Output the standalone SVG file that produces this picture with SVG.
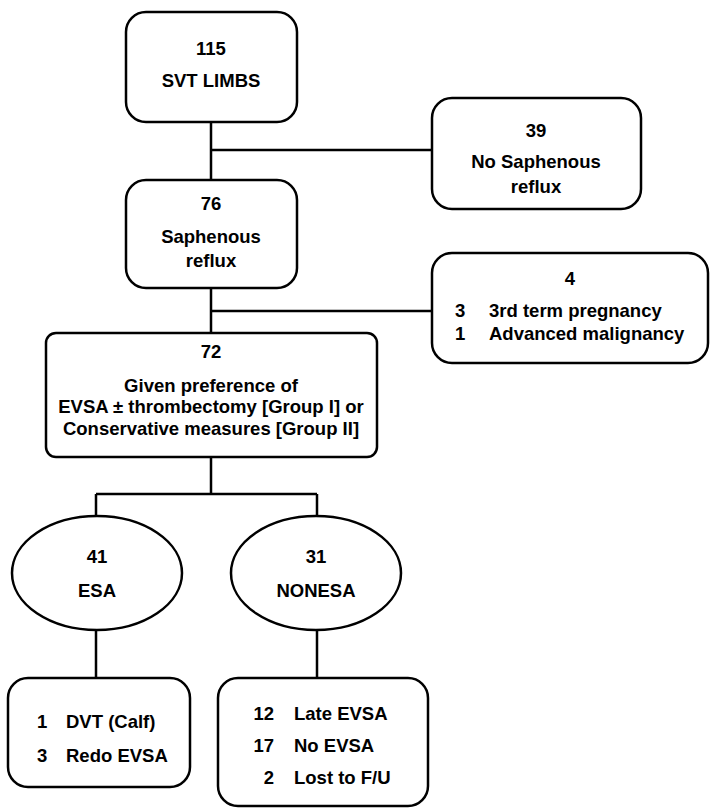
<svg xmlns="http://www.w3.org/2000/svg" width="710" height="808" viewBox="0 0 710 808">
<style>
.n{fill:#fff;stroke:#000;stroke-width:2.5}
.c{fill:none;stroke:#000;stroke-width:2.5}
text{font-family:"Liberation Sans",Arial,sans-serif;font-weight:bold;font-size:18.5px;fill:#000}
.m{text-anchor:middle}
.e{text-anchor:end}
</style>
<rect width="710" height="808" fill="#fff"/>
<g id="connectors">
<path class="c" d="M211 122V180M211 150H432"/>
<path class="c" d="M211 288V333M211 311H432"/>
<path class="c" d="M211 457V494M96 494H317M96 494V517M317 494V517"/>
<path class="c" d="M96 630V678M317 630V678"/>
</g>
<g id="n115">
<rect class="n" x="126" y="12" width="171" height="110" rx="20"/>
<text class="m" x="211" y="55">115</text>
<text class="m" x="211" y="87">SVT LIMBS</text>
</g>
<g id="n39">
<rect class="n" x="432" y="98" width="209" height="111" rx="20"/>
<text class="m" x="536" y="137">39</text>
<text class="m" x="536" y="168">No Saphenous</text>
<text class="m" x="536" y="193">reflux</text>
</g>
<g id="n76">
<rect class="n" x="126" y="180" width="171" height="108" rx="20"/>
<text class="m" x="211" y="210">76</text>
<text class="m" x="211" y="243">Saphenous</text>
<text class="m" x="211" y="267">reflux</text>
</g>
<g id="n4">
<rect class="n" x="432" y="253" width="276" height="110" rx="20"/>
<text class="m" x="570" y="285">4</text>
<text x="455" y="317">3</text>
<text x="489" y="317">3rd term pregnancy</text>
<text x="455" y="340">1</text>
<text x="489" y="340">Advanced malignancy</text>
</g>
<g id="n72">
<rect class="n" x="46" y="333" width="331" height="124" rx="10"/>
<text class="m" x="211" y="358">72</text>
<text class="m" x="211" y="392">Given preference of</text>
<text class="m" x="211" y="413">EVSA ± thrombectomy [Group I] or</text>
<text class="m" x="211" y="435">Conservative measures [Group II]</text>
</g>
<g id="n41">
<ellipse class="n" cx="97" cy="573" rx="85" ry="57"/>
<text class="m" x="97" y="563">41</text>
<text class="m" x="97" y="597">ESA</text>
</g>
<g id="n31">
<ellipse class="n" cx="316" cy="573" rx="85" ry="57"/>
<text class="m" x="316" y="563">31</text>
<text class="m" x="316" y="597">NONESA</text>
</g>
<g id="nESA">
<rect class="n" x="8" y="678" width="182" height="109" rx="20"/>
<text x="37" y="728">1</text>
<text x="66" y="728">DVT (Calf)</text>
<text x="37" y="762">3</text>
<text x="66" y="762">Redo EVSA</text>
</g>
<g id="nNONESA">
<rect class="n" x="218" y="678" width="210" height="128" rx="20"/>
<text class="e" x="274" y="720">12</text>
<text x="294" y="720">Late EVSA</text>
<text class="e" x="274" y="752">17</text>
<text x="294" y="752">No EVSA</text>
<text class="e" x="274" y="784">2</text>
<text x="294" y="784">Lost to F/U</text>
</g>
</svg>
